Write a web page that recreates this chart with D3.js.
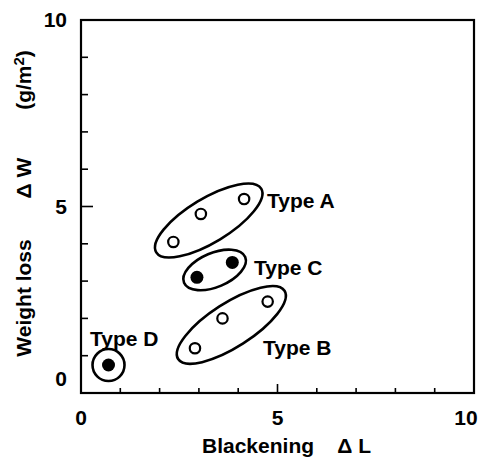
<!DOCTYPE html>
<html>
<head>
<meta charset="utf-8">
<script src="https://cdn.jsdelivr.net/npm/d3@7"></script>
<style>
  body { margin: 0; background: #fff; }
  svg text { font-family: "Liberation Sans", Arial, sans-serif; fill: #000; font-weight: bold; }
</style>
</head>
<body>
<div id="chart"></div>
<script>
// groups and their points (blackening ΔL, weight loss ΔW)
const groups = ["Type A", "Type C", "Type B", "Type D"];
const filled = [false, true, false, true];
const pointsL = [[2.35, 3.05, 4.15], [2.95, 3.85], [2.9, 3.6, 4.75], [0.7]];
const pointsW = [[4.05, 4.8, 5.2], [3.1, 3.5], [1.2, 2.0, 2.45], [0.75]];
const xTicks = [0, 5, 10];
const yTicks = [0, 5, 10];

const width = 483, height = 461;
const margin = { left: 81, right: 9, top: 20, bottom: 68 };
const fs = 21;

const svg = d3.select("#chart").append("svg")
  .attr("width", width).attr("height", height);

const x = d3.scaleLinear().domain([0, 10]).range([margin.left, width - margin.right]);
const y = d3.scaleLinear().domain([0, 10]).range([height - margin.bottom, margin.top]);

// frame
svg.append("rect")
  .attr("x", x(0)).attr("y", y(10))
  .attr("width", x(10) - x(0)).attr("height", y(0) - y(10))
  .attr("fill", "none").attr("stroke", "#000").attr("stroke-width", 2.2);

// inward ticks
const minor = d3.range(1, 10);
svg.append("g").selectAll("line").data(minor).join("line")
  .attr("x1", (d) => x(d)).attr("x2", (d) => x(d))
  .attr("y1", y(0)).attr("y2", (d) => y(0) - (d === 5 ? 9 : 5))
  .attr("stroke", "#000").attr("stroke-width", 1.6);
svg.append("g").selectAll("line").data(minor).join("line")
  .attr("y1", (d) => y(d)).attr("y2", (d) => y(d))
  .attr("x1", x(0)).attr("x2", (d) => x(0) + (d === 5 ? 12 : 7))
  .attr("stroke", "#000").attr("stroke-width", 1.6);

// tick labels
svg.append("g").selectAll("text").data(xTicks).join("text")
  .attr("x", (d) => x(d) - (d === 10 ? 8 : 0)).attr("y", y(0) + 32)
  .attr("text-anchor", "middle").attr("font-size", fs)
  .text((d) => d);
svg.append("g").selectAll("text").data(yTicks).join("text")
  .attr("x", x(0) - 14).attr("y", (d) => y(d) + 7 - (d === 0 ? 14 : 0))
  .attr("text-anchor", "end").attr("font-size", fs)
  .text((d) => d);

// axis titles
svg.append("text")
  .attr("x", 202).attr("y", 453)
  .attr("font-size", fs)
  .attr("xml:space", "preserve")
  .text("Blackening    \u0394 L");

const yTitle = svg.append("g").attr("transform", "translate(31,0)");
yTitle.append("text")
  .attr("transform", "translate(0,298) rotate(-90)")
  .attr("text-anchor", "middle").attr("font-size", fs)
  .text("Weight loss");
yTitle.append("text")
  .attr("transform", "translate(0,178) rotate(-90)")
  .attr("text-anchor", "middle").attr("font-size", fs)
  .attr("xml:space", "preserve")
  .text("\u0394 W");
const unit = yTitle.append("text")
  .attr("transform", "translate(0,80) rotate(-90)")
  .attr("text-anchor", "middle").attr("font-size", fs);
unit.append("tspan").text("(g/m");
unit.append("tspan").attr("dy", -7).attr("font-size", 15).text("2");
unit.append("tspan").attr("dy", 7).text(")");

// enclosures around each group
const pad = [[20, 22], [14, 17], [20, 22], [16, 16]];
const labelPos = [[267, 208], [254, 275], [263, 355], [90, 346]];

groups.forEach((g, i) => {
  const px = pointsL[i].map((v) => x(v));
  const py = pointsW[i].map((v) => y(v));
  const n = px.length;
  const cx = (px[0] + px[n - 1]) / 2, cy = (py[0] + py[n - 1]) / 2;
  const dx = px[n - 1] - px[0], dy = py[n - 1] - py[0];
  const half = Math.hypot(dx, dy) / 2;
  const ang = Math.atan2(dy, dx) * 180 / Math.PI;

  svg.append("ellipse")
    .attr("cx", cx).attr("cy", cy)
    .attr("rx", half + pad[i][0]).attr("ry", pad[i][1])
    .attr("transform", `rotate(${ang},${cx},${cy})`)
    .attr("fill", "none").attr("stroke", "#000").attr("stroke-width", 2.6);

  svg.append("g").selectAll("circle").data(d3.range(n)).join("circle")
    .attr("cx", (k) => px[k]).attr("cy", (k) => py[k])
    .attr("r", filled[i] ? 6.5 : 5.2)
    .attr("fill", filled[i] ? "#000" : "#fff")
    .attr("stroke", "#000").attr("stroke-width", filled[i] ? 0 : 2.2);

  svg.append("text")
    .attr("x", labelPos[i][0]).attr("y", labelPos[i][1])
    .attr("font-size", fs)
    .text(g);
});
</script>
</body>
</html>
